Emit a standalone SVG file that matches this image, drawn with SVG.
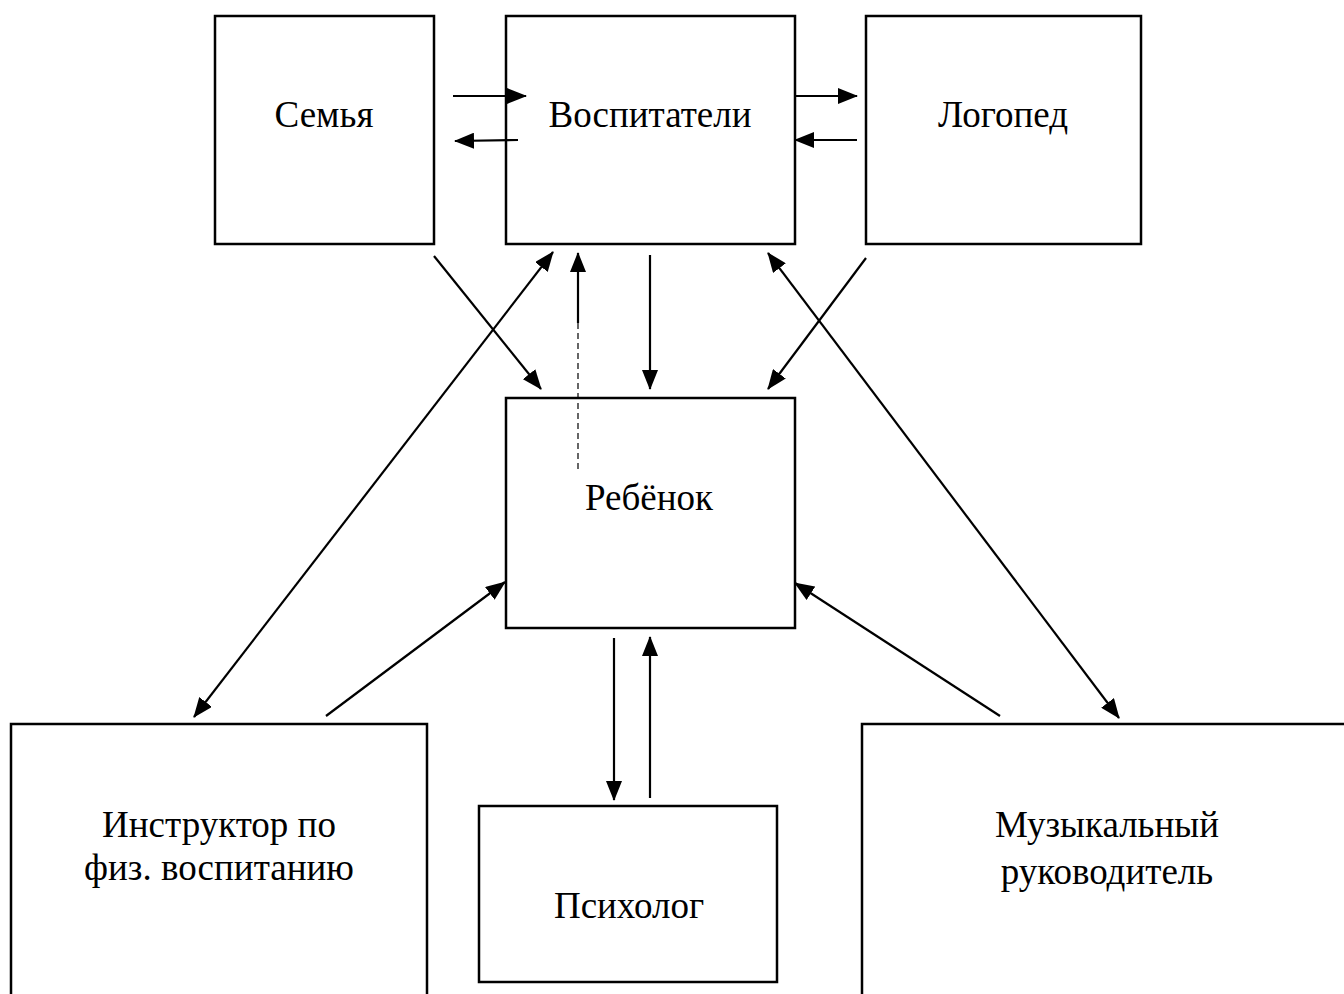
<svg xmlns="http://www.w3.org/2000/svg" width="1344" height="994" viewBox="0 0 1344 994">
<style>
.box{fill:#fff;stroke:#000;stroke-width:2.5}
.lbl{font-family:"Liberation Serif","Times New Roman",serif;font-size:37px;fill:#000;text-anchor:middle}
.c{stroke:#000;stroke-width:2.2;fill:none}
.d{stroke:#000;stroke-width:1.2;stroke-dasharray:6 4;fill:none}
</style>
<defs>
<marker id="ah" markerUnits="userSpaceOnUse" markerWidth="20" markerHeight="16" refX="19" refY="8" orient="auto-start-reverse" viewBox="0 0 20 16">
<path d="M0,0 L20,8 L0,16 Z" fill="#000"/>
</marker>
</defs>
<rect width="1344" height="994" fill="#fff"/>
<g id="semya"><rect class="box" x="215" y="16" width="219" height="228"/><text class="lbl" x="324" y="127">Семья</text></g>
<g id="vospitateli"><rect class="box" x="506" y="16" width="289" height="228"/><text class="lbl" x="650" y="127">Воспитатели</text></g>
<g id="logoped"><rect class="box" x="866" y="16" width="275" height="228"/><text class="lbl" x="1003" y="127">Логопед</text></g>
<g id="rebenok"><rect class="box" x="506" y="398" width="289" height="230"/><text class="lbl" x="649" y="510">Ребёнок</text></g>
<g id="instruktor"><path class="box" d="M11,1000 L11,724 L427,724 L427,1000"/><text class="lbl" x="219" y="837">Инструктор по</text><text class="lbl" x="219" y="880">физ. воспитанию</text></g>
<g id="psiholog"><rect class="box" x="479" y="806" width="298" height="176"/><text class="lbl" x="629" y="918">Психолог</text></g>
<g id="muzykalny"><path class="box" d="M862,1000 L862,724 L1350,724"/><text class="lbl" x="1107" y="837">Музыкальный</text><text class="lbl" x="1107" y="884">руководитель</text></g>
<g id="connectors">
<line class="c" x1="453" y1="96" x2="526" y2="96" marker-end="url(#ah)"/>
<line class="c" x1="518" y1="140" x2="455" y2="141" marker-end="url(#ah)"/>
<line class="c" x1="795" y1="96" x2="857" y2="96" marker-end="url(#ah)"/>
<line class="c" x1="857" y1="140" x2="795" y2="140" marker-end="url(#ah)"/>
<line class="c" x1="434" y1="256" x2="541" y2="389" marker-end="url(#ah)"/>
<line class="c" x1="194" y1="717" x2="553" y2="252" marker-start="url(#ah)" marker-end="url(#ah)"/>
<line class="c" x1="578" y1="323" x2="578" y2="253" marker-end="url(#ah)"/>
<line class="d" x1="578" y1="323" x2="578" y2="470"/>
<line class="c" x1="650" y1="255" x2="650" y2="389" marker-end="url(#ah)"/>
<line class="c" x1="866" y1="258" x2="768" y2="389" marker-end="url(#ah)"/>
<line class="c" x1="768" y1="253" x2="1119" y2="718" marker-start="url(#ah)" marker-end="url(#ah)"/>
<line class="c" x1="326" y1="716" x2="505" y2="582" marker-end="url(#ah)"/>
<line class="c" x1="1000" y1="716" x2="795" y2="583" marker-end="url(#ah)"/>
<line class="c" x1="614" y1="638" x2="614" y2="800" marker-end="url(#ah)"/>
<line class="c" x1="650" y1="798" x2="650" y2="637" marker-end="url(#ah)"/>
</g>
</svg>
